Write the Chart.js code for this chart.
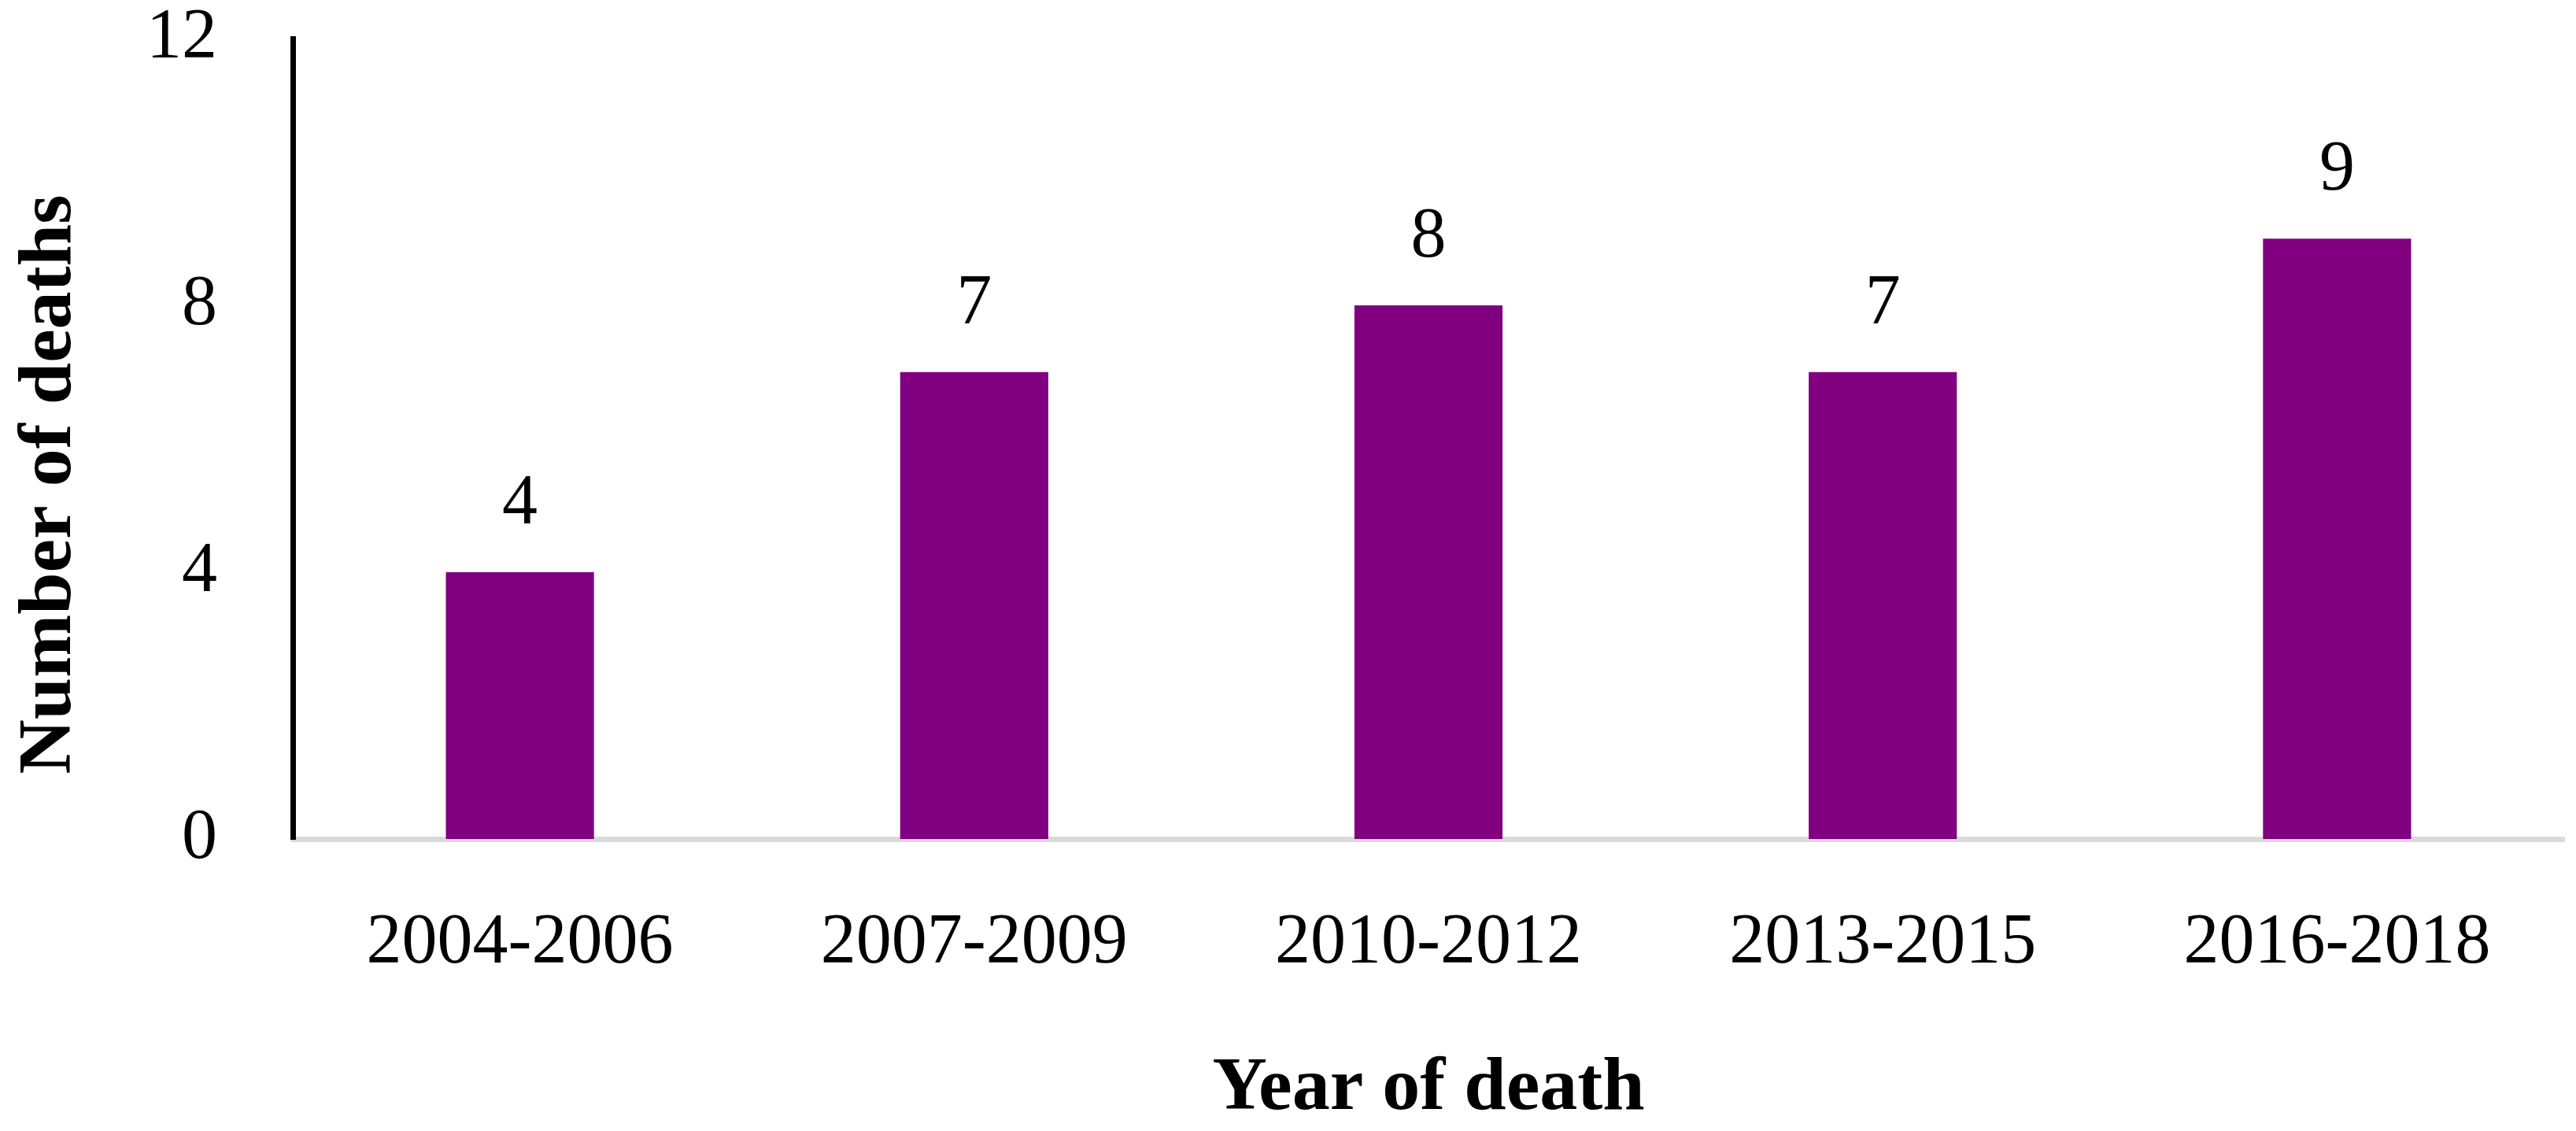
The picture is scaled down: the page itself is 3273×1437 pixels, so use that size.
<!DOCTYPE html>
<html>
<head>
<meta charset="utf-8">
<script src="https://cdn.jsdelivr.net/npm/chart.js@4/dist/chart.umd.min.js"></script>
<style>
  html, body { margin: 0; padding: 0; background: #ffffff; overflow: hidden; }
  #wrap { width: 3273px; height: 1437px; position: relative; }
</style>
</head>
<body>
<div id="wrap"><canvas id="c" width="3273" height="1437"></canvas></div>
<script>
// ---- data ----
const categories = ['2004-2006', '2007-2009', '2010-2012', '2013-2015', '2016-2018'];
const deaths = [4, 7, 8, 7, 9];
const yTickValues = [0, 4, 8, 12];
const xTitleText = 'Year of death';
const yTitleText = 'Number of deaths';

// ---- styles ----
const FONT = '"Liberation Serif", "Times New Roman", serif';
const BAR_COLOR = '#800080';

// value labels above bars, placed from the bar elements
const valueLabels = {
  id: 'valueLabels',
  afterDatasetsDraw(chart) {
    const ctx = chart.ctx;
    const meta = chart.getDatasetMeta(0);
    ctx.save();
    ctx.font = '90px ' + FONT;
    ctx.fillStyle = '#000000';
    ctx.textAlign = 'center';
    ctx.textBaseline = 'alphabetic';
    meta.data.forEach((el, i) => {
      ctx.fillText(String(chart.data.datasets[0].data[i]), el.x, el.y - 62);
    });
    ctx.restore();
  }
};

// y-axis title (rotated), positioned relative to the chart area
const yTitle = {
  id: 'yTitle',
  afterDraw(chart) {
    const ctx = chart.ctx;
    const a = chart.chartArea;
    ctx.save();
    ctx.font = 'bold 96px ' + FONT;
    ctx.fillStyle = '#000000';
    ctx.textAlign = 'center';
    ctx.textBaseline = 'alphabetic';
    ctx.translate(89, (a.top + a.bottom) / 2 + 58);
    ctx.rotate(-Math.PI / 2);
    ctx.fillText(yTitleText, 0, 0);
    ctx.restore();
  }
};

new Chart(document.getElementById('c'), {
  type: 'bar',
  data: {
    labels: categories,
    datasets: [{
      data: deaths,
      backgroundColor: BAR_COLOR,
      borderWidth: 0,
      categoryPercentage: 1.0,
      barPercentage: 0.326
    }]
  },
  options: {
    responsive: false,
    animation: false,
    devicePixelRatio: 1,
    layout: { padding: { top: 49, right: 15, bottom: 0, left: 0 } },
    plugins: {
      legend: { display: false },
      tooltip: { enabled: false },
      title: { display: false }
    },
    scales: {
      x: {
        grid: { display: false, drawTicks: false },
        border: { display: true, color: '#d9d9d9', width: 7 },
        ticks: {
          color: '#000000',
          font: { family: FONT, size: 90, lineHeight: 1.2 },
          padding: 79,
          maxRotation: 0,
          autoSkip: false
        },
        title: {
          display: true,
          text: xTitleText,
          color: '#000000',
          font: { family: FONT, size: 96, weight: 'bold', lineHeight: 1.1 },
          padding: { top: 0, bottom: 0 }
        },
        afterFit(scale) {
          scale.height = 371;
          scale.paddingLeft = 0; scale.paddingRight = 0;
        }
      },
      y: {
        min: 0,
        max: 12,
        grid: { display: false, drawTicks: false },
        border: { display: true, color: '#000000', width: 7 },
        ticks: {
          color: '#000000',
          font: { family: FONT, size: 90, lineHeight: 1.0 },
          padding: 96
        },
        afterBuildTicks(scale) {
          scale.ticks = yTickValues.map(v => ({ value: v }));
        },
        afterFit(scale) {
          scale.width = 372;
          scale.paddingTop = 0; scale.paddingBottom = 0;
        }
      }
    }
  },
  plugins: [valueLabels, yTitle]
});
</script>
</body>
</html>
